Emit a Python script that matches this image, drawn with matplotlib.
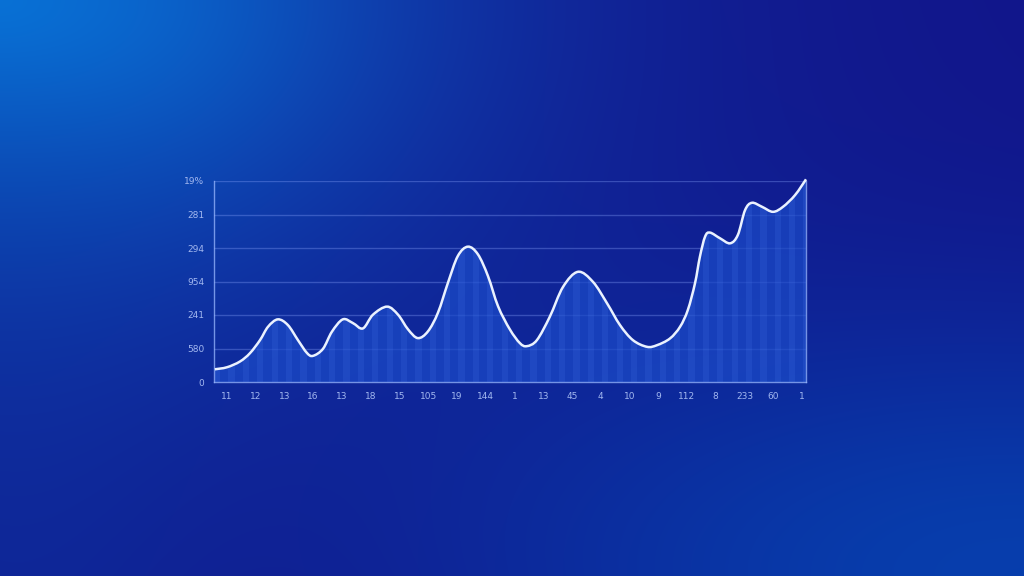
import numpy as np
import matplotlib
matplotlib.use("Agg")
import matplotlib.pyplot as plt
from matplotlib.path import Path
from matplotlib.patches import PathPatch

# category labels along the bottom (as printed in the picture)
x_labels = ["11", "12", "13", "16", "13", "18", "15", "105", "19", "144", "1",
            "13", "45", "4", "10", "9", "112", "8", "233", "60", "1"]
y_labels = ["0", "580", "241", "954", "294", "281", "19%"]

# curve (x in category units, y in grid steps)
curve_x = [-0.42, 0.0, 0.45, 0.8, 1.15, 1.43, 1.77, 2.12, 2.47, 2.78, 2.99,
           3.34, 3.65, 4.03, 4.38, 4.73, 5.08, 5.57, 5.95, 6.30, 6.64, 6.99,
           7.34, 7.69, 8.03, 8.38, 8.73, 9.08, 9.43, 9.84, 10.19, 10.43, 10.78,
           11.23, 11.69, 12.21, 12.73, 13.22, 13.67, 14.12, 14.61, 14.96, 15.41,
           15.76, 16.03, 16.28, 16.45, 16.63, 16.80, 17.15, 17.50, 17.77, 18.02,
           18.26, 18.61, 18.99, 19.34, 19.76, 20.14]
curve_y = [0.38, 0.44, 0.61, 0.86, 1.25, 1.65, 1.87, 1.70, 1.25, 0.87, 0.78,
           0.99, 1.50, 1.87, 1.76, 1.60, 2.01, 2.25, 2.01, 1.57, 1.31, 1.51,
           2.07, 2.97, 3.76, 4.04, 3.81, 3.16, 2.26, 1.57, 1.16, 1.07, 1.25,
           1.95, 2.84, 3.29, 2.99, 2.35, 1.70, 1.25, 1.05, 1.10, 1.30,
           1.65, 2.15, 2.95, 3.74, 4.34, 4.46, 4.29, 4.14, 4.39, 5.13,
           5.35, 5.23, 5.08, 5.23, 5.58, 6.05]


def smooth_path(xs, ys, close_to=None):
    # catmull-rom through the points, drawn as cubic bezier segments
    p = np.column_stack([xs, ys])
    ext = np.vstack([p[0], p, p[-1]])
    verts = [p[0]]
    codes = [Path.MOVETO]
    for i in range(len(p) - 1):
        p0, p1, p2, p3 = ext[i], ext[i + 1], ext[i + 2], ext[i + 3]
        verts += [p1 + (p2 - p0) / 6, p2 - (p3 - p1) / 6, p2]
        codes += [Path.CURVE4] * 3
    if close_to is not None:
        verts += [(xs[-1], close_to), (xs[0], close_to), p[0]]
        codes += [Path.LINETO, Path.LINETO, Path.CLOSEPOLY]
    return Path(verts, codes)


W, H = 1024, 576
fig = plt.figure(figsize=(W / 100, H / 100), dpi=100)

# background gradient
bg = fig.add_axes([0, 0, 1, 1])
yy, xx = np.mgrid[0:H, 0:W]
c_tl = np.array([0.03, 0.55, 0.93])
c_mid = np.array([0.07, 0.08, 0.54])
c_br = np.array([0.02, 0.27, 0.70])
d_tl = np.sqrt((xx / W) ** 2 + (yy / H * 0.85) ** 2)
d_br = np.sqrt(((W - xx) / W * 0.8) ** 2 + ((H - yy) / H) ** 2)
w1 = np.exp(-(d_tl / 0.36) ** 1.4)[..., None]
w2 = (np.exp(-(d_br / 0.45) ** 2) * 0.85)[..., None]
img = c_mid + w1 * (c_tl - c_mid) + w2 * (c_br - c_mid)
# slight lift on the left edge
w3 = (np.exp(-(xx / W / 0.22) ** 2) * 0.35)[..., None]
img = img + w3 * (np.array([0.04, 0.24, 0.66]) - img)
bg.imshow(np.clip(img, 0, 1), aspect="auto", extent=[0, 1, 0, 1], origin="upper")
bg.axis("off")

ax = fig.add_axes([214 / W, 1 - 382 / H, 592 / W, 201 / H])
ax.patch.set_alpha(0)
ax.set_xlim(-0.45, 20.14)
ax.set_ylim(0, 6)

grid_c = (0.55, 0.65, 1.0, 0.33)
for v in range(1, 7):
    ax.axhline(v, color=grid_c, lw=1.0, zorder=1)

area = PathPatch(smooth_path(curve_x, curve_y, close_to=0), facecolor="#1b4ac8",
                 alpha=0.72, lw=0, zorder=2, transform=ax.transData)
ax.add_patch(area)

# vertical stripes inside the filled area
for sx in np.arange(-0.45, 20.2, 0.5):
    sp = ax.axvspan(sx, sx + 0.22, color=(0.35, 0.55, 1.0), alpha=0.13, lw=0, zorder=3)
    sp.set_clip_path(area)

line = PathPatch(smooth_path(curve_x, curve_y), facecolor="none", edgecolor="#eaf2ff",
                 lw=1.8, zorder=5, clip_on=False, transform=ax.transData)
ax.add_patch(line)

for side in ["left", "bottom", "right"]:
    ax.spines[side].set_color((0.6, 0.72, 1.0, 0.75))
    ax.spines[side].set_linewidth(1.0)
ax.spines["top"].set_visible(False)

ax.set_xticks(range(len(x_labels)))
ax.set_xticklabels(x_labels)
ax.set_yticks(range(len(y_labels)))
ax.set_yticklabels(y_labels)
ax.tick_params(axis="x", length=0, pad=7, labelsize=6.5, labelcolor="#a3b8f0")
ax.tick_params(axis="y", length=0, pad=7, labelsize=6.5, labelcolor="#a3b8f0")

fig.savefig("out.png", dpi=100)
